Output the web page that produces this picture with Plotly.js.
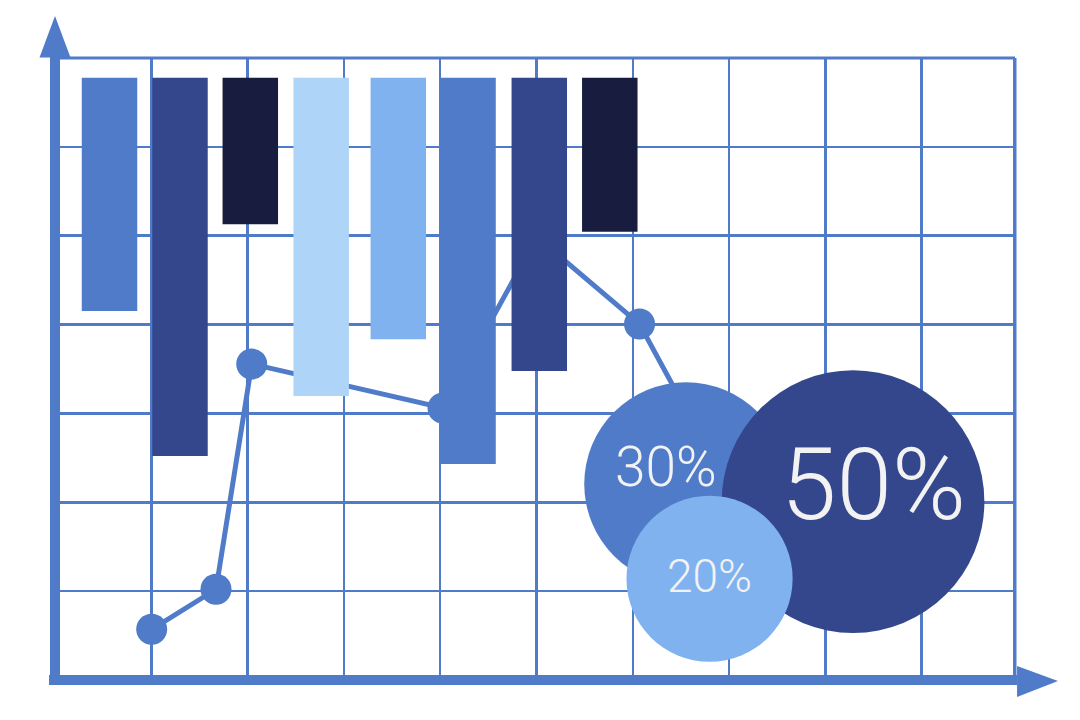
<!DOCTYPE html>
<html>
<head>
<meta charset="utf-8">
<script src="https://cdn.plot.ly/plotly-3.0.1.min.js"></script>
<style>
	html, body { margin: 0; padding: 0; background: #ffffff; }
	#chart { width: 1080px; height: 720px; }
</style>
</head>
<body>
<div id="chart"></div>
<script>
// bars hang from a common top line down to their own bottom level
const barX = [0.566, 1.298, 2.028, 2.764, 3.565, 4.289, 5.029, 5.761];
const barTop = 6.778;
const barBottom = [4.153, 2.521, 5.128, 3.196, 3.834, 2.431, 3.477, 5.045];
const barColors = ['#4f7bc8', '#34478c', '#181c3e', '#aed4f7', '#7fb2ef', '#4f7bc8', '#34478c', '#181c3e'];

// the line that runs behind the bars (last point sits under the bubbles)
const lineX = [1.004, 1.672, 2.043, 4.029, 5.005, 6.070, 6.874];
const lineY = [0.571, 1.021, 3.556, 3.061, 4.985, 4.006, 2.400];

// share bubbles
const bubbleX = [6.552, 8.287, 6.797];
const bubbleY = [2.206, 2.007, 1.140];
const bubbleShare = [30, 50, 20];
const bubbleLabels = ['30%', '50%', '20%'];
const bubbleColors = ['#4f7bc8', '#34478c', '#7fb2ef'];

const blue = '#4f7bc8';
const labelSizes = [55, 100, 46];
const labelShift = [[-20, 17], [20, 17], [0, 3]];

const data = [
	{
		type: 'scatter',
		mode: 'lines+markers',
		x: lineX,
		y: lineY,
		line: { color: blue, width: 5 },
		marker: { color: blue, size: 31 },
		hoverinfo: 'skip',
	},
	{
		type: 'bar',
		xaxis: 'x2',
		yaxis: 'y2',
		x: barX,
		y: barBottom.map(b => barTop - b),
		base: barBottom,
		width: 0.576,
		marker: { color: barColors, line: { width: 0 } },
		hoverinfo: 'skip',
	},
	{
		type: 'scatter',
		mode: 'markers',
		xaxis: 'x2',
		yaxis: 'y2',
		x: bubbleX,
		y: bubbleY,
		marker: {
			color: bubbleColors,
			size: bubbleShare,
			sizemode: 'area',
			sizeref: 1 / 690,
			opacity: 1,
			line: { width: 0 },
		},
		hoverinfo: 'skip',
	},
];

const axisBase = {
	range: [0, 10],
	dtick: 1,
	showgrid: true,
	gridcolor: blue,
	gridwidth: 2.5,
	zeroline: false,
	showline: false,
	showticklabels: false,
	ticks: '',
	fixedrange: true,
};

const layout = {
	width: 1080,
	height: 720,
	margin: { l: 55, r: 62, t: 58, b: 40, pad: 0 },
	paper_bgcolor: '#ffffff',
	plot_bgcolor: '#ffffff',
	showlegend: false,
	xaxis: { ...axisBase },
	yaxis: { ...axisBase, range: [0, 7] },
	xaxis2: { ...axisBase, overlaying: 'x', showgrid: false, visible: false },
	yaxis2: { ...axisBase, range: [0, 7], overlaying: 'y', showgrid: false, visible: false },
	annotations: bubbleLabels.map((t, i) => ({
		text: t,
		x: bubbleX[i],
		y: bubbleY[i],
		xref: 'x2',
		yref: 'y2',
		xshift: labelShift[i][0],
		yshift: labelShift[i][1],
		showarrow: false,
		font: { family: 'Roboto, "Liberation Sans", sans-serif', weight: 300, size: labelSizes[i], color: '#f2f2f2' },
	})),
	shapes: [
		// frame top and right
		{ type: 'line', xref: 'paper', yref: 'paper', x0: 0, x1: 0.9969, y0: 1, y1: 1, line: { color: blue, width: 3 } },
		{ type: 'line', xref: 'paper', yref: 'paper', x0: 0.9969, x1: 0.9969, y0: 0, y1: 1, line: { color: blue, width: 4 } },
		// cover the grid line that falls past the frame
		{ type: 'line', xref: 'paper', yref: 'paper', x0: 1, x1: 1, y0: 0.006, y1: 1.003, line: { color: '#ffffff', width: 3 } },
		// thick axes
		{ type: 'line', xref: 'paper', yref: 'paper', x0: 0, x1: 0, y0: -0.008, y1: 1.0016, line: { color: blue, width: 10 } },
		{ type: 'line', xref: 'paper', yref: 'paper', x0: -0.0062, x1: 0.999, y0: 0, y1: 0, line: { color: blue, width: 10 } },
		// arrow heads
		{ type: 'path', xref: 'paper', yref: 'paper', path: 'M -0.0161,1.0008 L 0.0161,1.0008 L 0,1.0675 Z', fillcolor: blue, line: { width: 0 } },
		{ type: 'path', xref: 'paper', yref: 'paper', path: 'M 0.999,0.0225 L 0.999,-0.0273 L 1.0415,-0.0016 Z', fillcolor: blue, line: { width: 0 } },
	],
};

Plotly.newPlot('chart', data, layout, { displayModeBar: false, staticPlot: true });
</script>
</body>
</html>
